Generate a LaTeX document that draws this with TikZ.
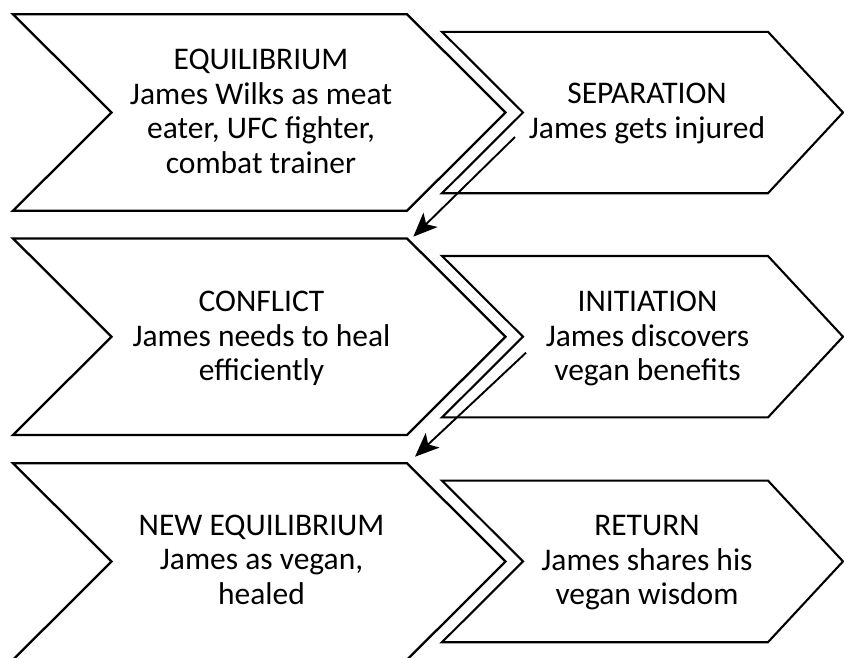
\documentclass[tikz,border=0pt]{standalone}
\usepackage{fontspec}
\setmainfont{Carlito}
\usetikzlibrary{arrows.meta}
\begin{document}
\begin{tikzpicture}[x=1pt,y=-1pt,
  bigchev/.style={draw=black, line width=2.3pt, line join=miter},
  smallchev/.style={draw=black, line width=2.1pt, line join=miter},
  lbl/.style={align=center, font=\fontsize{31.5}{34.5}\selectfont, inner sep=0pt, anchor=base},
  flow/.style={draw=black, line width=1.9pt, -{Stealth[length=24pt,width=20pt,inset=6pt]}}]
\useasboundingbox (0,0) rectangle (844,657);
\clip (0,0) rectangle (844,657);
% row 1
\draw[bigchev] (13,14.2) -- (407,14.2) -- (505.5,112.5) -- (407,210.8) -- (13,210.8) -- (111.5,112.5) -- cycle;
\draw[smallchev] (442,31.8) -- (768,31.8) -- (843,112.5) -- (768,193.2) -- (442,193.2) -- (523,112.5) -- cycle;
% row 2
\draw[bigchev] (13,238.4) -- (407,238.4) -- (505.5,336.7) -- (407,435) -- (13,435) -- (111.5,336.7) -- cycle;
\draw[smallchev] (442,256) -- (768,256) -- (843,336.7) -- (768,417.4) -- (442,417.4) -- (523,336.7) -- cycle;
% row 3
\draw[bigchev] (13,463.2) -- (407,463.2) -- (505.5,561.5) -- (407,659.8) -- (13,659.8) -- (111.5,561.5) -- cycle;
\draw[smallchev] (442,480.6) -- (768,480.6) -- (843,561.4) -- (768,642.2) -- (442,642.2) -- (523,561.4) -- cycle;
% texts (anchored at the baseline of the last line)
\node[lbl] (equi) at (261,173.3) {EQUILIBRIUM\\James Wilks as meat\\eater, UFC fighter,\\combat trainer};
\node[lbl] (sep) at (647,138.2) {SEPARATION\\James gets injured};
\node[lbl] (conf) at (261.5,380.5) {CONFLICT\\James needs to heal\\efficiently};
\node[lbl] (init) at (647.5,380.5) {INITIATION\\James discovers\\vegan benefits};
\node[lbl] (neweq) at (261.5,604) {NEW EQUILIBRIUM\\James as vegan,\\healed};
\node[lbl] (ret) at (647,604.5) {RETURN\\James shares his\\vegan wisdom};
% arrows
\coordinate (a1s) at (515,137);
\coordinate (a1e) at (413.3,236.7);
\coordinate (a2s) at (526,352.7);
\coordinate (a2e) at (415,456.7);
\draw[flow] (a1s) -- (a1e);
\draw[flow] (a2s) -- (a2e);
\end{tikzpicture}
\end{document}
